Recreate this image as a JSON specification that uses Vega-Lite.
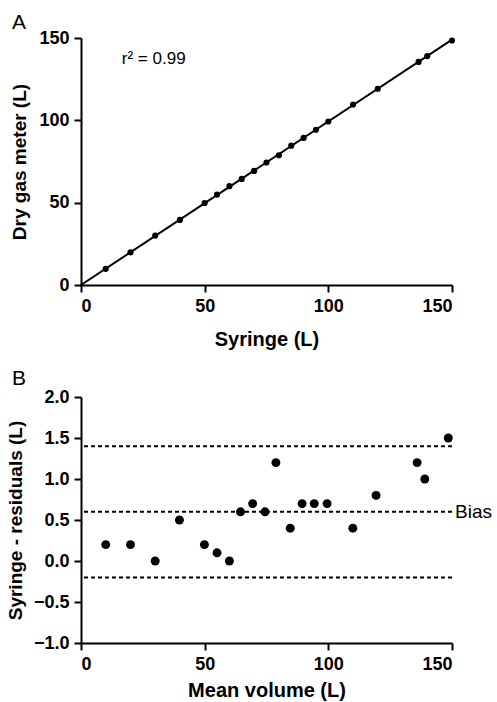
{
  "$schema": "https://vega.github.io/schema/vega-lite/v6.json",
  "padding": {"left": 6, "top": 12, "right": 2, "bottom": 3},
  "background": "white",
  "spacing": 19,
  "config": {
    "view": {"stroke": null},
    "font": "Liberation Sans",
    "axis": {
      "grid": false,
      "domainColor": "black",
      "domainWidth": 2,
      "tickColor": "black",
      "tickWidth": 2,
      "tickSize": 7,
      "labelFont": "Liberation Sans",
      "labelFontSize": 18,
      "labelFontWeight": "bold",
      "labelColor": "black",
      "labelPadding": 5,
      "titleFont": "Liberation Sans",
      "titleFontSize": 19,
      "titleFontWeight": "bold",
      "titleColor": "black"
    },
    "title": {"font": "Liberation Sans", "fontSize": 21, "fontWeight": "normal", "color": "black", "anchor": "start", "frame": "group"}
  },
  "vconcat": [
    {
      "width": 371,
      "height": 247,
      "title": {"text": "A", "dx": -69, "offset": -4},
      "layer": [
        {
          "data": {"values": [{"syringe": 0, "meter": 0}, {"syringe": 150, "meter": 149}]},
          "mark": {"type": "line", "color": "black", "strokeWidth": 2},
          "encoding": {
            "x": {"field": "syringe", "type": "quantitative", "scale": {"domain": [0, 150], "nice": false}, "axis": {"values": [0, 50, 100, 150], "title": "Syringe (L)", "titlePadding": 14, "titleFontSize": 20}},
            "y": {"field": "meter", "type": "quantitative", "scale": {"domain": [0, 150], "nice": false}, "axis": {"values": [0, 50, 100, 150], "title": "Dry gas meter (L)", "titlePadding": 9}}
          }
        },
        {
          "data": {"values": [
            {"syringe": 10, "meter": 9.8}, {"syringe": 20, "meter": 19.8}, {"syringe": 30, "meter": 30},
            {"syringe": 40, "meter": 39.5}, {"syringe": 50, "meter": 49.8}, {"syringe": 55, "meter": 54.9},
            {"syringe": 60, "meter": 60}, {"syringe": 65, "meter": 64.4}, {"syringe": 70, "meter": 69.3},
            {"syringe": 75, "meter": 74.4}, {"syringe": 80, "meter": 78.8}, {"syringe": 85, "meter": 84.6},
            {"syringe": 90, "meter": 89.3}, {"syringe": 95, "meter": 94.3}, {"syringe": 100, "meter": 99.3},
            {"syringe": 110, "meter": 109.6}, {"syringe": 120, "meter": 119.2}, {"syringe": 136.5, "meter": 135.5},
            {"syringe": 140, "meter": 139}, {"syringe": 150, "meter": 148.5}
          ]},
          "mark": {"type": "circle", "color": "black", "opacity": 1, "size": 38},
          "encoding": {
            "x": {"field": "syringe", "type": "quantitative"},
            "y": {"field": "meter", "type": "quantitative"}
          }
        },
        {
          "data": {"values": [{"syringe": 16.5, "meter": 137, "label": "r² = 0.99"}]},
          "mark": {"type": "text", "align": "left", "baseline": "middle", "fontSize": 17, "font": "Liberation Sans", "color": "black"},
          "encoding": {
            "x": {"field": "syringe", "type": "quantitative"},
            "y": {"field": "meter", "type": "quantitative"},
            "text": {"field": "label"}
          }
        }
      ]
    },
    {
      "width": 371,
      "height": 246,
      "title": {"text": "B", "dx": -69, "offset": -1},
      "layer": [
        {
          "data": {"values": [{"limit": 1.4}, {"limit": 0.6}, {"limit": -0.2}]},
          "mark": {"type": "rule", "color": "black", "strokeWidth": 2, "strokeDash": [4, 3]},
          "encoding": {
            "y": {"field": "limit", "type": "quantitative", "scale": {"domain": [-1, 2], "nice": false}, "axis": {"values": [-1, -0.5, 0, 0.5, 1, 1.5, 2], "format": ".1f", "title": "Syringe - residuals (L)", "titlePadding": 8}}
          }
        },
        {
          "data": {"values": [
            {"mean": 10, "diff": 0.2}, {"mean": 20, "diff": 0.2}, {"mean": 30, "diff": 0.0},
            {"mean": 39.8, "diff": 0.5}, {"mean": 49.9, "diff": 0.2}, {"mean": 55, "diff": 0.1},
            {"mean": 60, "diff": 0.0}, {"mean": 64.5, "diff": 0.6}, {"mean": 69.4, "diff": 0.7},
            {"mean": 74.4, "diff": 0.6}, {"mean": 78.8, "diff": 1.2}, {"mean": 84.6, "diff": 0.4},
            {"mean": 89.4, "diff": 0.7}, {"mean": 94.3, "diff": 0.7}, {"mean": 99.5, "diff": 0.7},
            {"mean": 109.9, "diff": 0.4}, {"mean": 119.3, "diff": 0.8}, {"mean": 135.9, "diff": 1.2},
            {"mean": 139, "diff": 1.0}, {"mean": 148.5, "diff": 1.5}
          ]},
          "mark": {"type": "circle", "color": "black", "opacity": 1, "size": 80},
          "encoding": {
            "x": {"field": "mean", "type": "quantitative", "scale": {"domain": [0, 150], "nice": false}, "axis": {"values": [0, 50, 100, 150], "title": "Mean volume (L)", "titlePadding": 7, "titleFontSize": 20}},
            "y": {"field": "diff", "type": "quantitative"}
          }
        },
        {
          "data": {"values": [{"mean": 150, "diff": 0.6, "label": "Bias"}]},
          "mark": {"type": "text", "align": "left", "baseline": "middle", "dx": 3, "fontSize": 19, "font": "Liberation Sans", "color": "black"},
          "encoding": {
            "x": {"field": "mean", "type": "quantitative"},
            "y": {"field": "diff", "type": "quantitative"},
            "text": {"field": "label"}
          }
        }
      ]
    }
  ]
}
